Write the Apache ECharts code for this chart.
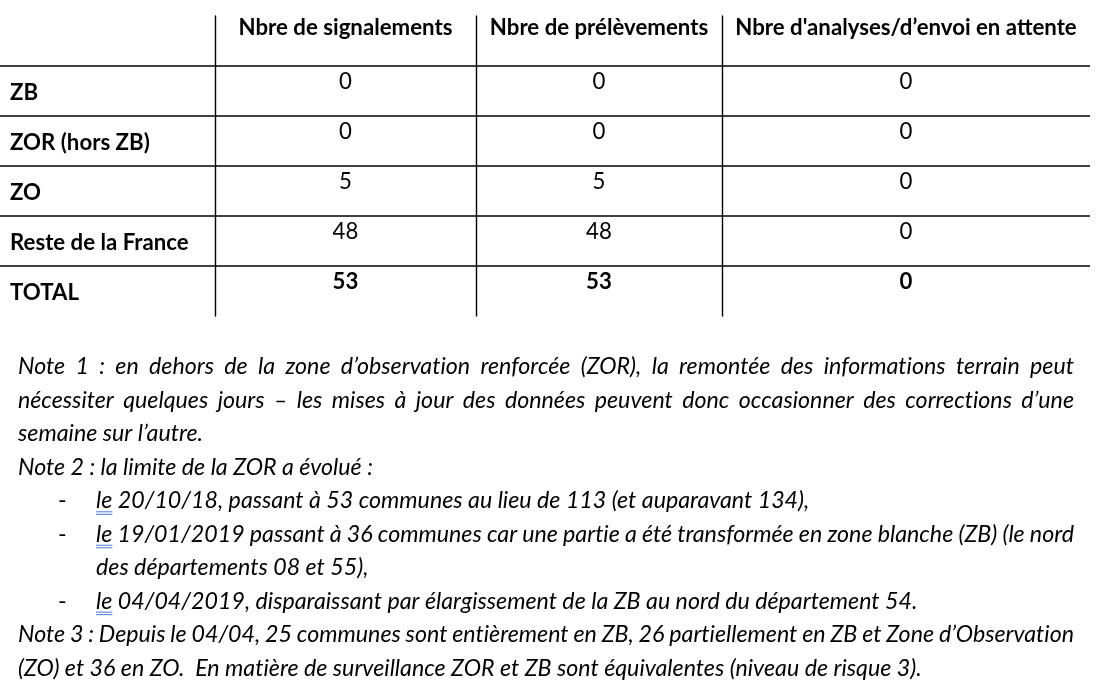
<!DOCTYPE html>
<html><head><meta charset="utf-8">
<script src="https://cdn.jsdelivr.net/npm/echarts@6/dist/echarts.min.js"></script>
<style>html,body{margin:0;padding:0;background:#fff}#c{width:1098px;height:688px}</style>
</head><body><div id="c"></div>
<script>
// ---------- data ----------
const columns = ['Nbre de signalements', 'Nbre de prélèvements', 'Nbre d\'analyses/d’envoi en attente'];
const rowLabels = ['ZB', 'ZOR (hors ZB)', 'ZO', 'Reste de la France', 'TOTAL'];
const signalements = [0, 0, 5, 48, 53];
const prelevements = [0, 0, 5, 48, 53];
const enAttente = [0, 0, 0, 0, 0];

const noteLines = [
  'Note 1 : en dehors de la zone d’observation renforcée (ZOR), la remontée des informations terrain peut',
  'nécessiter quelques jours – les mises à jour des données peuvent donc occasionner des corrections d’une',
  'semaine sur l’autre.',
  'Note 2 : la limite de la ZOR a évolué :',
  'le 20/10/18, passant à 53 communes au lieu de 113 (et auparavant 134),',
  'le 19/01/2019 passant à 36 communes car une partie a été transformée en zone blanche (ZB) (le nord',
  'des départements 08 et 55),',
  'le 04/04/2019, disparaissant par élargissement de la ZB au nord du département 54.',
  'Note 3 : Depuis le 04/04, 25 communes sont entièrement en ZB, 26 partiellement en ZB et Zone d’Observation',
  '(ZO) et 36 en ZO.  En matière de surveillance ZOR et ZB sont équivalentes (niveau de risque 3).'
];
const noteKinds = ['justify', 'justify', 'plain', 'plain', 'bullet', 'bulletJustify', 'indent', 'bullet', 'justify', 'plain'];

// ---------- layout ----------
const FONT = 'Lato';
// avoid the font's "ti" ligature (the source font has none)
function noLig(s) { return String(s).replace(/ti/g, 't\u200Ci'); }
const ctx = document.createElement('canvas').getContext('2d');
function measure(text, font) { ctx.font = font; return ctx.measureText(text).width; }
const headSize = 20 * 214 / measure('Nbre de signalements', 'bold 20px ' + FONT);
const noteSize = 20 * 355 / measure('Note 2 : la limite de la ZOR a évolué :', 'italic 20px ' + FONT);
const cellSize = headSize;

const colLefts = [0, 215, 476, 722];
const colWidths = [215, 261, 246, 368];
const tableTop = 16, rowH = 50, nRows = rowLabels.length + 1;
const yCats = ['header'].concat(rowLabels);

const colValues = [signalements, prelevements, enAttente];

function renderer(colIdx) {
  return function (params, api) {
    const r = api.value(1);
    const p = api.coord([0, r]);
    const band = api.size([0, 1])[1];
    const cs = params.coordSys;
    const top = p[1] - band / 2;
    const children = [];
    if (r > 0) {
      children.push({ type: 'line', shape: { x1: cs.x, y1: top, x2: cs.x + cs.width, y2: top },
        style: { stroke: '#000', lineWidth: 1.4 } });
    }
    const text = api.value(2);
    const bold = api.value(3) === 1;
    if (text !== '') {
      let x, y, align;
      if (colIdx === 0) { x = cs.x + 10; y = p[1] + 2; align = 'left'; }
      else if (r === 0) { x = p[0]; y = p[1] - 13; align = 'center'; }
      else { x = p[0]; y = p[1] - 9; align = 'center'; }
      children.push({ type: 'text', x: x, y: y,
        style: { text: noLig(text), fill: '#000', align: align, verticalAlign: 'middle',
          font: (bold ? 'bold ' : '') + cellSize.toFixed(2) + 'px ' + FONT } });
    }
    return { type: 'group', children: children };
  };
}

const grids = [], xAxes = [], yAxes = [], series = [];
for (let c = 0; c < 4; c++) {
  grids.push({ left: colLefts[c], width: colWidths[c], top: tableTop, height: rowH * nRows, containLabel: false });
  xAxes.push({ type: 'category', gridIndex: c, data: ['col'], show: false });
  yAxes.push({ type: 'category', gridIndex: c, data: yCats, inverse: true,
    axisLabel: { show: false }, axisTick: { show: false }, splitLine: { show: false },
    axisLine: { show: c > 0, lineStyle: { color: '#000', width: 1.4 } } });
  const data = [];
  for (let r = 0; r < nRows; r++) {
    let txt, bold;
    if (c === 0) { txt = r === 0 ? '' : rowLabels[r - 1]; bold = 1; }
    else if (r === 0) { txt = columns[c - 1]; bold = 1; }
    else { txt = colValues[c - 1][r - 1]; bold = (r === nRows - 1) ? 1 : 0; }
    data.push([0, r, txt, bold]);
  }
  series.push({ type: 'custom', xAxisIndex: c, yAxisIndex: c, renderItem: renderer(c),
    data: data, silent: true, clip: false });
}

// notes as text graphics (justified like the source document)
const noteFont = 'italic ' + noteSize.toFixed(2) + 'px ' + FONT;
const noteY0 = 367, noteStep = 33.45, leftX = 18, rightX = 1074, dashX = 58, indentX = 96;
const graphics = [];
function addWords(line, x0, x1, y, justify) {
  if (!justify) {
    graphics.push({ type: 'text', x: x0, y: y, silent: true,
      style: { text: noLig(line), font: noteFont, fill: '#000', verticalAlign: 'middle' } });
    return;
  }
  const words = line.split(' ').map(noLig);
  const widths = words.map(w => measure(w, noteFont));
  const total = widths.reduce((a, b) => a + b, 0);
  const gap = (x1 - x0 - total) / (words.length - 1);
  let x = x0;
  words.forEach((w, i) => {
    graphics.push({ type: 'text', x: x, y: y, silent: true,
      style: { text: w, font: noteFont, fill: '#000', verticalAlign: 'middle' } });
    x += widths[i] + gap;
  });
}
noteLines.forEach((line, i) => {
  const y = noteY0 + i * noteStep;
  const kind = noteKinds[i];
  if (kind === 'bullet' || kind === 'bulletJustify') {
    graphics.push({ type: 'text', x: dashX, y: y, silent: true,
      style: { text: '-', font: noteSize.toFixed(2) + 'px ' + FONT, fill: '#000', verticalAlign: 'middle' } });
    addWords(line, indentX, rightX, y, kind === 'bulletJustify');
    const wle = measure('le', noteFont);
    [11, 13.5].forEach(dy => graphics.push({ type: 'line', silent: true,
      shape: { x1: indentX, y1: y + dy, x2: indentX + wle, y2: y + dy },
      style: { stroke: '#4a78d6', lineWidth: 1 } }));
  } else if (kind === 'indent') {
    addWords(line, indentX, rightX, y, false);
  } else {
    addWords(line, leftX, rightX, y, kind === 'justify');
  }
});

const chart = echarts.init(document.getElementById('c'), null, { renderer: 'canvas' });
chart.setOption({
  animation: false,
  backgroundColor: '#fff',
  grid: grids, xAxis: xAxes, yAxis: yAxes, series: series,
  graphic: { elements: graphics }
});
</script>
</body></html>
